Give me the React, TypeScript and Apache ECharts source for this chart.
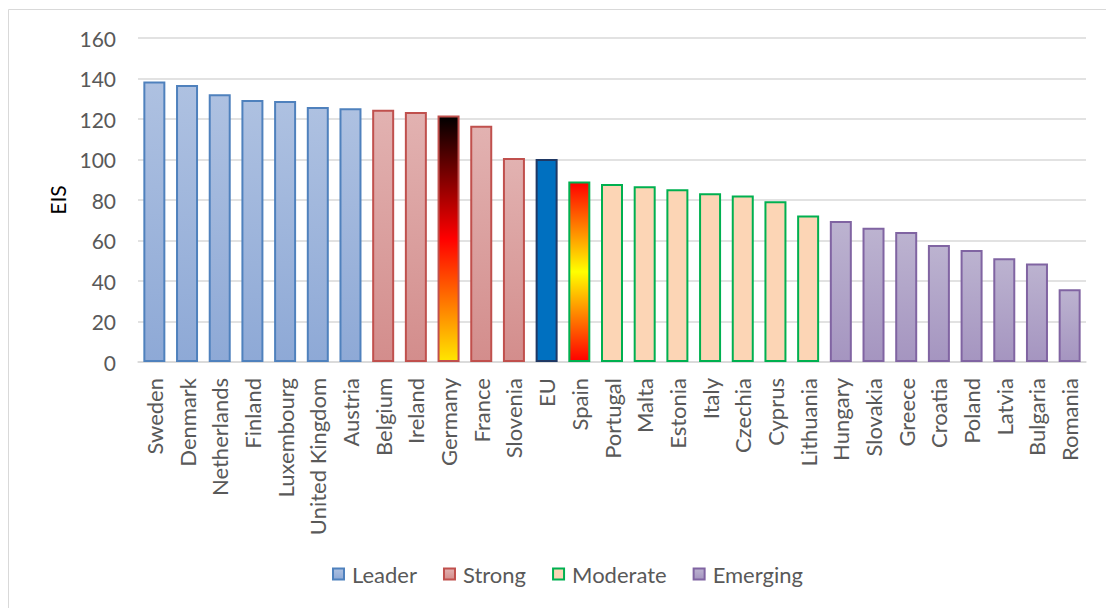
import React, { useEffect, useRef } from "react";
import * as echarts from "echarts";

// European Innovation Scoreboard scores by country
const countries = [
  "Sweden", "Denmark", "Netherlands", "Finland", "Luxembourg", "United Kingdom", "Austria",
  "Belgium", "Ireland", "Germany", "France", "Slovenia", "EU", "Spain", "Portugal", "Malta",
  "Estonia", "Italy", "Czechia", "Cyprus", "Lithuania", "Hungary", "Slovakia", "Greece",
  "Croatia", "Poland", "Latvia", "Bulgaria", "Romania",
];
const scores = [
  138.5, 136.8, 132.2, 129.4, 128.9, 125.9, 125.3,
  124.6, 123.5, 121.7, 116.7, 100.7, 100.2, 89.1, 87.9, 86.8,
  85.3, 83.3, 82.2, 79.4, 72.3, 69.6, 66.3, 64.2,
  57.8, 55.3, 51.2, 48.6, 35.9,
];
const groups = [
  "Leader", "Leader", "Leader", "Leader", "Leader", "Leader", "Leader",
  "Strong", "Strong", "Strong", "Strong", "Strong", "EU", "Moderate", "Moderate", "Moderate",
  "Moderate", "Moderate", "Moderate", "Moderate", "Moderate", "Emerging", "Emerging", "Emerging",
  "Emerging", "Emerging", "Emerging", "Emerging", "Emerging",
];
const legendNames = ["Leader", "Strong", "Moderate", "Emerging"];
const yTicks = { min: 0, max: 160, interval: 20 };

const FONT = "Lato, 'Open Sans', sans-serif";

const vgrad = (top: string, bottom: string) =>
  new echarts.graphic.LinearGradient(0, 0, 0, 1, [
    { offset: 0, color: top },
    { offset: 1, color: bottom },
  ]);

const groupStyles: Record<string, any> = {
  Leader: { color: vgrad("#aec1e1", "#8ea9d6"), borderColor: "#4f81bd" },
  Strong: { color: vgrad("#e2b2b1", "#d38d8c"), borderColor: "#c0504d" },
  Moderate: { color: "#fcd5b5", borderColor: "#00b050" },
  Emerging: { color: vgrad("#bcb3d0", "#a595c0"), borderColor: "#8064a2" },
  EU: { color: "#0070c0", borderColor: "#1f3864" },
};

// Flag-coloured fills for two highlighted countries
const specialFills: Record<string, any> = {
  Germany: new echarts.graphic.LinearGradient(0, 0, 0, 1, [
    { offset: 0, color: "#000000" },
    { offset: 0.5, color: "#ff0000" },
    { offset: 1, color: "#ffe600" },
  ]),
  Spain: new echarts.graphic.LinearGradient(0, 0, 0, 1, [
    { offset: 0, color: "#ff0000" },
    { offset: 0.5, color: "#ffff00" },
    { offset: 1, color: "#ff0000" },
  ]),
};

export default function App() {
  const ref = useRef<HTMLDivElement>(null);

  useEffect(() => {
    if (!ref.current) return;
    const chart = echarts.init(ref.current, null, { renderer: "svg" });

    const seriesNames = [...legendNames, "EU"];
    const series = seriesNames.map((name) => ({
      name,
      type: "bar",
      stack: "all",
      barWidth: 22,
      itemStyle: { ...groupStyles[name], borderWidth: 2 },
      data: scores.map((v, i) => {
        if (groups[i] !== name) return "-";
        const fill = specialFills[countries[i]];
        return fill ? { value: v, itemStyle: { color: fill } } : v;
      }),
    }));

    chart.setOption({
      animation: false,
      grid: { left: 138, right: 20, top: 38, bottom: 246 },
      graphic: [
        {
          type: "rect",
          shape: { x: 8.5, y: 9.5, width: 1200, height: 700 },
          style: { fill: "none", stroke: "#d9d9d9", lineWidth: 1 },
          silent: true,
        },
      ],
      legend: {
        data: legendNames,
        left: 327,
        top: 558,
        icon: "rect",
        itemWidth: 11,
        itemHeight: 11,
        itemGap: 26,
        textStyle: { fontFamily: FONT, fontSize: 22, color: "#595959", padding: [0, 0, 0, 3] },
      },
      xAxis: {
        type: "category",
        data: countries,
        axisLine: { lineStyle: { color: "#d9d9d9", width: 1.5 } },
        axisTick: { show: false },
        axisLabel: {
          rotate: 90,
          interval: 0,
          margin: 16,
          fontFamily: FONT,
          fontSize: 22,
          color: "#595959",
        },
      },
      yAxis: {
        type: "value",
        min: yTicks.min,
        max: yTicks.max,
        interval: yTicks.interval,
        name: "EIS",
        nameLocation: "middle",
        nameRotate: 90,
        nameGap: 70,
        nameTextStyle: { fontFamily: FONT, fontSize: 21, color: "#000000" },
        axisLine: { show: false },
        axisTick: { show: false },
        splitLine: { lineStyle: { color: "#d9d9d9", width: 1.5 } },
        axisLabel: { margin: 22, fontFamily: FONT, fontSize: 21, color: "#595959" },
      },
      series,
    });

    return () => chart.dispose();
  }, []);

  return (
    <div
      ref={ref}
      style={{ position: "fixed", left: 0, top: 0, width: 1106, height: 608, background: "#ffffff" }}
    />
  );
}
